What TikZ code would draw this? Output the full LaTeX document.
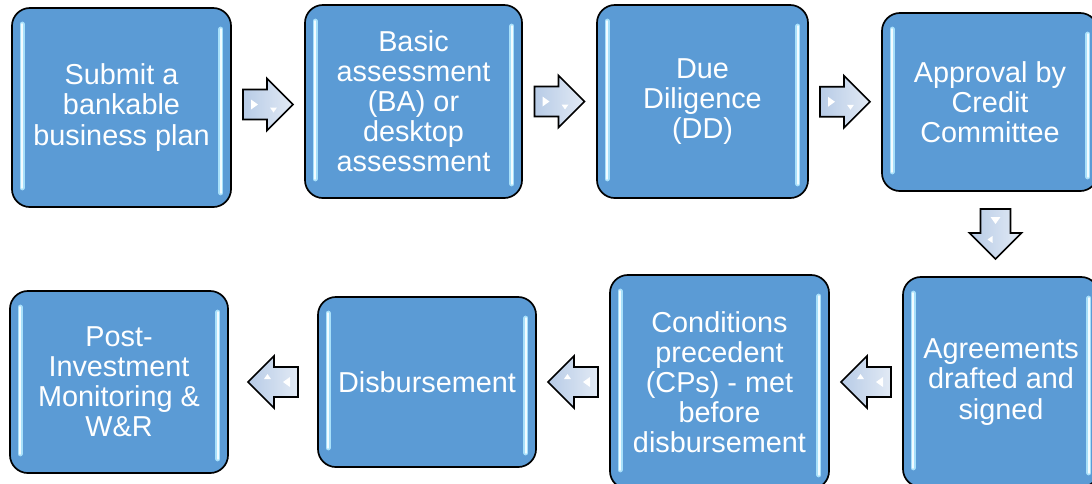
\documentclass[tikz,border=0pt]{standalone}
\usepackage{fontspec}
\setmainfont{Liberation Sans}
\usetikzlibrary{calc}
\definecolor{boxblue}{HTML}{5B9BD5}
\definecolor{glowcore}{HTML}{F2FCFF}
\definecolor{glowedge}{HTML}{A8E0FA}
\definecolor{arrowdark}{HTML}{B7CBE6}
\definecolor{arrowlight}{HTML}{E2EAF5}

\tikzset{
	stepbox/.style={rectangle, rounded corners=0.45cm, draw=black, line width=1.2pt, fill=boxblue, text=white, align=center, inner sep=0pt, font=\fontsize{20.5}{21.4}\selectfont},
	glowline/.style={glowedge, line width=3.6pt, line cap=round},
	glowcoreline/.style={glowcore, line width=1.6pt, line cap=round},
	blockarrow/.pic={
		\draw[line width=1.2pt, line join=miter, left color=arrowdark, right color=arrowlight] (-25,-15) -- (-1,-15) -- (-1,-26) -- (25,0) -- (-1,26) -- (-1,15) -- (-25,15) -- cycle;
		\fill[white] (-17,-5) -- (-10,0) -- (-17,5) -- cycle;
		\fill[white] (2,3) -- (9,3) -- (5.5,8) -- cycle;
	},
}

\begin{document}
\begin{tikzpicture}[x=0.025cm, y=-0.025cm]
			\useasboundingbox (0,0) rectangle (1092,483);
			% top row
			\node[stepbox, minimum width=5.475cm, minimum height=4.975cm] (submit) at (121.5,107.5) {Submit a\\bankable\\business plan};
			\node[stepbox, minimum width=5.425cm, minimum height=4.825cm] (basic) at (413.5,101.5) {Basic\\assessment\\(BA) or\\desktop\\assessment};
			\node[stepbox, minimum width=5.275cm, minimum height=4.825cm] (dd) at (702.5,101.5) {Due\\Diligence\\(DD)};
			\node[stepbox, minimum width=5.4cm, minimum height=4.45cm] (approval) at (990,102) {Approval by\\Credit\\Committee};
			% bottom row
			\node[stepbox, minimum width=4.9cm, minimum height=5.25cm] (agree) at (1001,382) {Agreements\\drafted and\\signed};
			\node[stepbox, minimum width=5.475cm, minimum height=5.35cm] (cps) at (719.5,382) {Conditions\\precedent\\(CPs) - met\\before\\disbursement};
			\node[stepbox, minimum width=5.45cm, minimum height=4.25cm] (disb) at (427,382) {Disbursement};
			\node[stepbox, minimum width=5.45cm, minimum height=4.55cm] (post) at (119,382) {Post-\\Investment\\Monitoring \&\\W\&R};
			% light bars inside the boxes
			\foreach \n in {submit,basic,dd,approval,agree,cps,disb,post}{
				\draw[glowline] ($(\n.north west)+(11,17)$) -- ($(\n.south west)+(11,-20)$);
				\draw[glowline] ($(\n.north east)+(-11,22)$) -- ($(\n.south east)+(-11,-15)$);
				\draw[glowcoreline] ($(\n.north west)+(11,17)$) -- ($(\n.south west)+(11,-20)$);
				\draw[glowcoreline] ($(\n.north east)+(-11,22)$) -- ($(\n.south east)+(-11,-15)$);
			}
			% block arrows
			\pic at ($(submit.east)!0.5!(basic.west)$) {blockarrow};
			\pic at ($(basic.east)!0.5!(dd.west)$) {blockarrow};
			\pic at ($(dd.east)!0.5!(approval.west)$) {blockarrow};
			\pic[rotate=-90] at ($(approval.south)!0.5!(agree.north)$) {blockarrow};
			\pic[rotate=180] at ($(agree.west)!0.5!(cps.east)$) {blockarrow};
			\pic[rotate=180] at ($(cps.west)!0.5!(disb.east)$) {blockarrow};
			\pic[rotate=180] at ($(disb.west)!0.5!(post.east)$) {blockarrow};
		\end{tikzpicture}
\end{document}
